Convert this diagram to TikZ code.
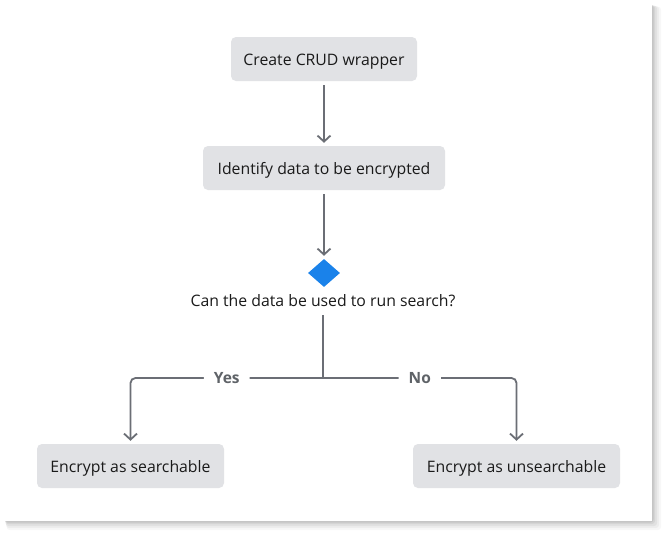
\documentclass[tikz,border=0pt]{standalone}
\usepackage{fontspec}
\setmainfont{Open Sans}
\usetikzlibrary{arrows.meta,shapes.geometric}

\definecolor{boxgray}{HTML}{E1E2E5}
\definecolor{linegray}{HTML}{6B6E75}
\definecolor{textdark}{HTML}{1A1A1A}
\definecolor{labelgray}{HTML}{5F6368}
\definecolor{decblue}{HTML}{1A82EA}

\tikzset{
  stepbox/.style={fill=boxgray, rounded corners=5pt, text=textdark,
    minimum height=44pt, inner xsep=12pt, text height=12pt, text depth=0pt,
    font=\fontsize{15.8}{18}\selectfont},
  flow/.style={draw=linegray, line width=1.8pt, -{Straight Barb[length=6pt,width=13pt]},
    shorten <=4pt, shorten >=3pt},
  branch/.style={draw=linegray, line width=1.8pt, rounded corners=5pt,
    -{Straight Barb[length=6pt,width=13pt]}, shorten >=3pt},
  branchlabel/.style={fill=white, text=labelgray, inner xsep=10pt,
    font=\fontsize{15.5}{18}\selectfont\bfseries},
}

\begin{document}
\begin{tikzpicture}[x=1pt, y=-1pt]
  \useasboundingbox (0,0) rectangle (667,536);
  % card with soft shadow
  \foreach \d/\o in {9/0.03, 7/0.04, 5/0.05, 3/0.06, 1.5/0.07}
    \fill[black, opacity=\o, rounded corners=3pt] (4+\d*0.3,4+\d*0.3) rectangle (652+\d,521+\d);
  \fill[white] (4,4) rectangle (652,521);

  \node[stepbox, minimum width=186pt] (crud) at (324,59) {Create CRUD wrapper};
  \node[stepbox, minimum width=242pt] (identify) at (324,168) {Identify data to be encrypted};
  \node[diamond, fill=decblue, minimum width=32pt, minimum height=28pt, inner sep=0pt] (decision) at (324,273) {};
  \node[text=textdark, font=\fontsize{15.8}{18}\selectfont, inner sep=2pt] (question) at (323,301) {Can the data be used to run search?};
  \node[stepbox, minimum width=187pt] (searchable) at (130.5,466) {Encrypt as searchable};
  \node[stepbox, minimum width=207pt] (unsearchable) at (516.5,466) {Encrypt as unsearchable};
  \coordinate (split) at (323,378);

  \draw[flow] (crud) -- (identify);
  \draw[flow] (identify) -- (decision);
  \draw[draw=linegray, line width=1.8pt] (323,315) -- (split);
  \draw[branch] (split) -| node[branchlabel, pos=0.25] {Yes} (searchable);
  \draw[branch] (split) -| node[branchlabel, pos=0.25] {No} (unsearchable);
\end{tikzpicture}
\end{document}
